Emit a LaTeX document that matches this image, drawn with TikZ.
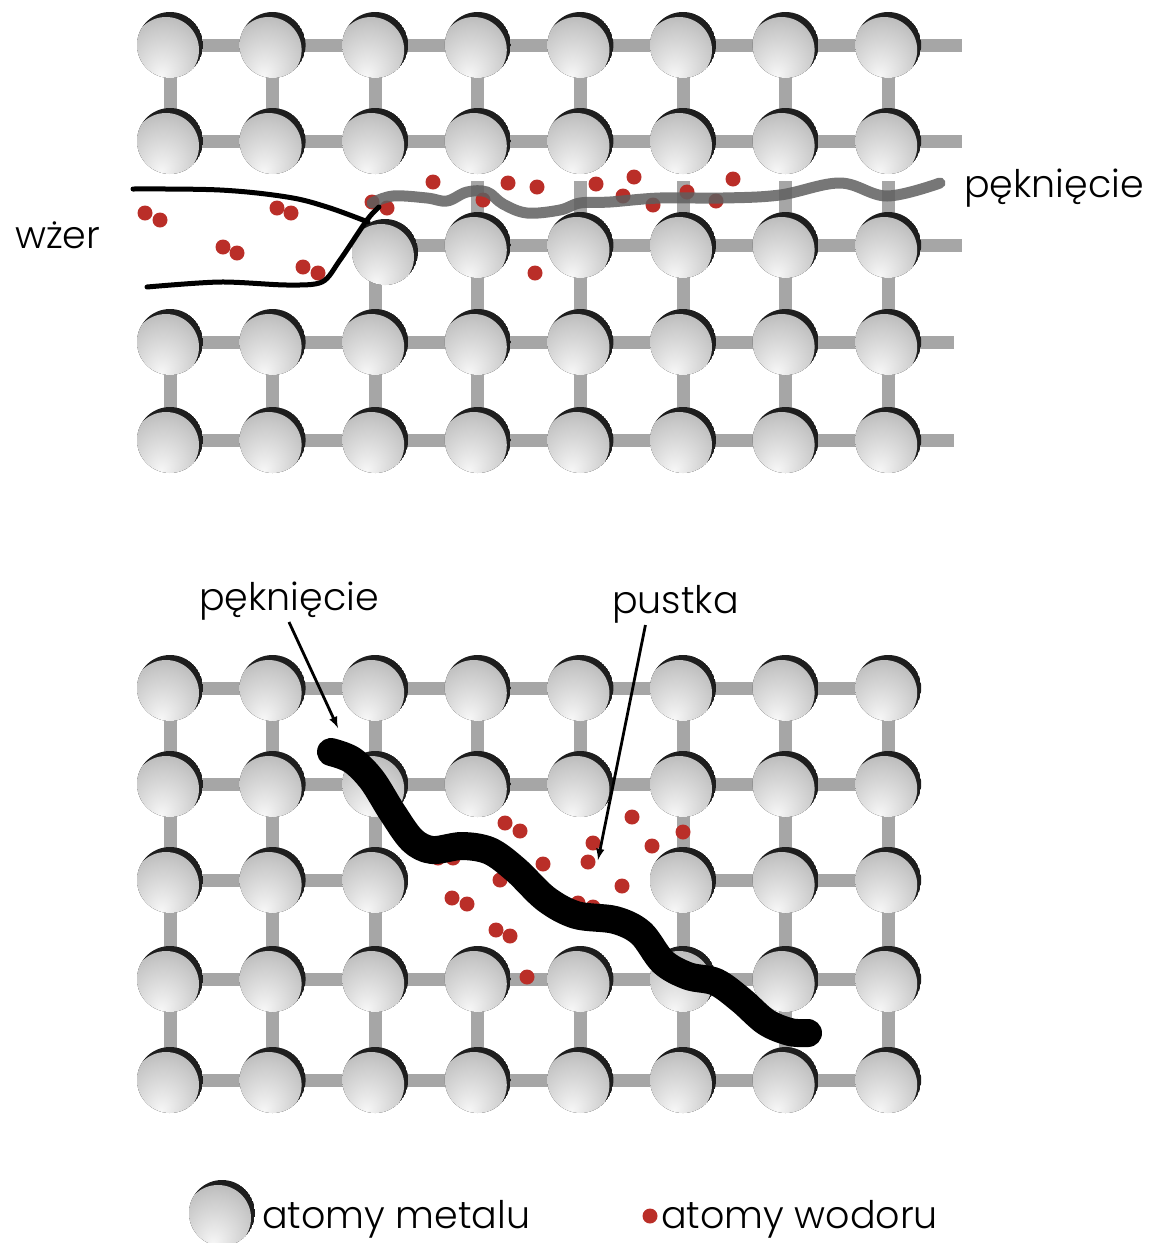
\documentclass[tikz,border=0pt]{standalone}
\usepackage{fontspec}
\setmainfont{Poppins}[UprightFont=* Light]
\usepackage{tikz}
\usetikzlibrary{arrows,positioning,backgrounds}

\definecolor{bondgray}{RGB}{166,166,166}
\definecolor{crackgray}{RGB}{95,95,95}
\definecolor{hred}{RGB}{186,46,40}
\definecolor{atomrim}{RGB}{30,30,30}

% shiny metal ball, light towards the bottom
\pgfdeclareradialshading{atomball}{\pgfpoint{-4bp}{-20bp}}{%
  color(0bp)=(white!97!black); color(10bp)=(white!90!black);
  color(26bp)=(white!79!black); color(40bp)=(white!68!black);
  color(47bp)=(white!56!black); color(50bp)=(white!42!black)}

\tikzset{
  bond/.style={line width=13pt, draw=bondgray},
  atom/.style={circle, minimum size=66pt, inner sep=0pt,
    path picture={
      \fill[atomrim] (path picture bounding box.center) circle (33pt);
      \shade[shading=atomball] ([shift={(-4pt,-5pt)}]path picture bounding box.center) circle (33pt);
    }},
  hatom/.style={circle, fill=hred, minimum size=15pt, inner sep=0pt},
  txt/.style={anchor=base west, inner sep=2pt, font=\fontsize{38}{46}\selectfont},
  pointer/.style={-latex, line width=2.8pt},
}

\begin{document}
\begin{tikzpicture}[x=1pt, y=-1pt]
    \useasboundingbox (0,0) rectangle (1160,1243);

    % Lattice sites
    \foreach \r/\y in {1/45,2/141,3/245,4/342,5/440}
        \foreach \c in {1,...,8}
            \coordinate (t-\r-\c) at ({170+102.6*(\c-1)},\y);
    \foreach \r/\y in {1/688,2/784,3/880,4/979,5/1080}
        \foreach \c in {1,...,8}
            \coordinate (b-\r-\c) at ({170+102.6*(\c-1)},\y);
    \foreach \r/\len in {1/74,2/74,3/74,4/66,5/66}
        \path (t-\r-8) ++(\len,0) coordinate (t-\r-end);
    \foreach \c in {4,...,8}
        \path (t-3-\c) ++(0,-64) coordinate (t-stub-\c);

    % Top lattice: bonds
    \foreach \r in {1,2,4,5}
        \draw[bond] (t-\r-1) -- (t-\r-end);
    \draw[bond] (t-3-3) -- (t-3-end);
    \foreach \c in {1,...,8} {
        \draw[bond] (t-1-\c) -- (t-2-\c);
        \draw[bond] (t-4-\c) -- (t-5-\c);
    }
    \foreach \c in {3,...,8}
        \draw[bond] (t-3-\c) -- (t-4-\c);
    \foreach \c in {4,...,8}
        \draw[bond] (t-3-\c) -- (t-stub-\c);

    % Top lattice: atoms
    \foreach \r in {1,2,4,5}
        \foreach \c in {1,...,8}
            \node[atom] (ta-\r-\c) at (t-\r-\c) {};
    \foreach \c in {4,...,8}
        \node[atom] (ta-3-\c) at (t-3-\c) {};
    \node[atom] (ta-3-3) at (385,252) {};

    % Hydrogen in the pit and along the crack
    \foreach \x/\y [count=\i] in {145/213,160/220,277/208,291/213,223/247,237/253,
        303/267,318/273,372/202,387/208,433/182,483/200,508/183,537/187,535/273,
        596/184,623/196,634/177,653/205,687/192,716/201,733/179}
        \node[hatom] (th-\i) at (\x,\y) {};

    % Crack running from the pit
    \draw[crackgray, line width=11pt, opacity=0.85, line cap=round, line join=round]
        plot[smooth, tension=0.6] coordinates {(372,203) (393,196) (427,198) (447,201)
        (467,192) (487,192) (503,204) (527,213) (560,210) (580,203) (610,202)
        (660,198) (723,198) (780,195) (840,183) (887,196) (940,183)};

    % Pit outline
    \draw[line width=5pt, line cap=round]
        plot[smooth, tension=0.6] coordinates {(133,189) (220,190) (287,197) (327,207) (368,222)};
    \draw[line width=5pt, line cap=round]
        plot[smooth, tension=0.5] coordinates {(147,287) (220,282) (287,285) (322,282)
        (340,260) (367,220) (379,207)};

    \node[txt] (pit-label) at (13,248) {wżer};
    \node[txt] (crack-top-label) at (962,197) {pęknięcie};

    % Bottom lattice: bonds
    \foreach \r in {1,2,4,5}
        \draw[bond] (b-\r-1) -- (b-\r-8);
    \draw[bond] (b-3-1) -- (b-3-3);
    \draw[bond] (b-3-6) -- (b-3-8);
    \foreach \c in {1,...,8} {
        \draw[bond] (b-1-\c) -- (b-2-\c);
        \draw[bond] (b-4-\c) -- (b-5-\c);
    }
    \foreach \c in {1,2,3,6,7,8}
        \draw[bond] (b-2-\c) -- (b-4-\c);

    % Bottom lattice: atoms (the void has none)
    \foreach \r in {1,2,4,5}
        \foreach \c in {1,...,8}
            \node[atom] (ba-\r-\c) at (b-\r-\c) {};
    \foreach \c in {1,2,3,6,7,8}
        \node[atom] (ba-3-\c) at (b-3-\c) {};

    % Hydrogen gathered in the void
    \foreach \x/\y [count=\i] in {505/823,520/831,543/864,593/843,588/862,632/817,
        652/846,683/832,622/886,452/898,467/904,496/930,510/936,578/903,593/907,
        527/977,438/858,453/858,500/880}
        \node[hatom] (bh-\i) at (\x,\y) {};

    % Crack through the lattice
    \draw[line width=28pt, line cap=round, line join=round]
        plot[smooth, tension=0.55] coordinates {(331,752) (352,760) (372,780) (392,812)
        (412,840) (432,850) (462,846) (490,851) (516,870) (546,899) (576,915)
        (615,920) (641,933) (663,962) (688,976) (716,982) (741,1000) (766,1022)
        (790,1032) (808,1033)};

    \node[txt] (crack-bot-label) at (197,610) {pęknięcie};
    \node[txt] (void-label) at (610,613) {pustka};
    \coordinate (crack-tip) at (338,728);
    \coordinate (void-tip) at (598,860);
    \draw[pointer] (crack-bot-label.south) -- (crack-tip);
    \draw[pointer] ([xshift=-30pt]void-label.south) -- (void-tip);

    % Legend
    \node[atom] (key-metal) at (222,1213) {};
    \node[txt] (key-metal-text) at (260,1228) {atomy metalu};
    \node[hatom] (key-h) at (650,1216) {};
    \node[txt] (key-h-text) at (659,1228) {atomy wodoru};
\end{tikzpicture}
\end{document}
